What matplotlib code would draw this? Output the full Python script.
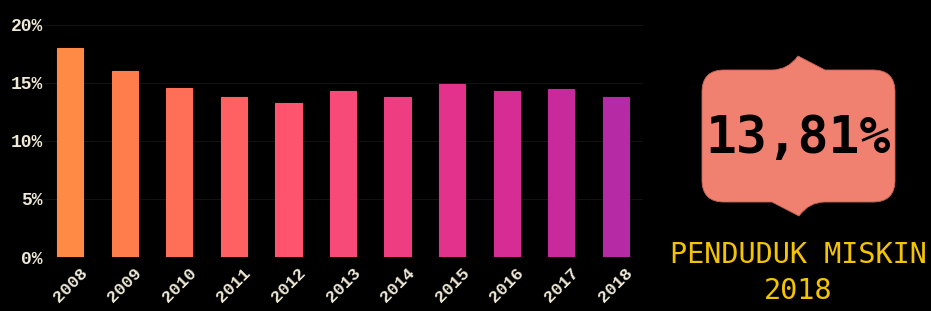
import matplotlib
matplotlib.use('Agg')
import matplotlib.pyplot as plt
from matplotlib.path import Path
from matplotlib.patches import PathPatch

# data
years = ['2008', '2009', '2010', '2011', '2012', '2013', '2014', '2015', '2016', '2017', '2018']
poverty = [18.03, 16.03, 14.55, 13.75, 13.25, 14.3, 13.78, 14.9, 14.3, 14.52, 13.81]
yticks = [0, 5, 10, 15, 20]
big_label = '13,81%'
caption = 'PENDUDUK MISKIN\n2018'

# style
BG = 'black'
CREAM = '#EFE9D6'
bar_colors = ['#FF8A45', '#FF7D4B', '#FF6E56', '#FF6062', '#FF536E', '#F84A78',
              '#EE3D80', '#E2328B', '#D52D94', '#C82A9C', '#B62AA6']

fig = plt.figure(figsize=(9.31, 3.11), dpi=100, facecolor=BG)
W, H = 931., 311.
ax = fig.add_axes([43/W, 1-257/H, 600/W, 232/H], facecolor=BG)

x = range(len(years))
ax.bar(x, poverty, width=0.48, color=bar_colors, zorder=3,
       edgecolor=bar_colors, linewidth=0.8)
ax.set_xlim(-0.5, len(years)-0.5)
ax.set_ylim(0, 20)
ax.set_yticks(yticks)
ax.set_yticklabels([str(t)+'%' for t in yticks])
ax.set_xticks(list(x))
ax.set_xticklabels(years, rotation=45)
for lbl in ax.get_yticklabels() + ax.get_xticklabels():
    lbl.set_family('Liberation Mono')
    lbl.set_weight('bold')
    lbl.set_color(CREAM)
    lbl.set_fontsize(13)
for lbl in ax.get_xticklabels():
    lbl.set_fontsize(12.5)
ax.tick_params(length=0)
ax.tick_params(axis='y', pad=0)
ax.tick_params(axis='x', pad=6)
ax.grid(axis='y', color='#121212', linewidth=0.8, zorder=0)
for s in ax.spines.values():
    s.set_visible(False)

# callout overlay in pixel coords
ov = fig.add_axes([0, 0, 1, 1], facecolor='none')
ov.set_xlim(0, W)
ov.set_ylim(H, 0)
ov.axis('off')

x0, x1, y0, y1, r = 702, 895, 70, 202, 22
verts = [(x0+r, y0), (772, y0), (788, y0), (798, 56), (825, y0), (x1-r, y0),
         (x1, y0), (x1, y0+r), (x1, y1-r), (x1, y1), (x1-r, y1),
         (825, y1), (809, y1), (799, 216), (772, y1), (x0+r, y1),
         (x0, y1), (x0, y1-r), (x0, y0+r), (x0, y0), (x0+r, y0)]
codes = [Path.MOVETO, Path.LINETO, Path.CURVE3, Path.CURVE3, Path.LINETO, Path.LINETO,
         Path.CURVE3, Path.CURVE3, Path.LINETO, Path.CURVE3, Path.CURVE3,
         Path.LINETO, Path.CURVE3, Path.CURVE3, Path.LINETO, Path.LINETO,
         Path.CURVE3, Path.CURVE3, Path.LINETO, Path.CURVE3, Path.CURVE3]
ov.add_patch(PathPatch(Path(verts, codes), facecolor='#F08070',
                       edgecolor='#C86454', linewidth=0.6))

ov.text(798, 139, big_label, ha='center', va='center', fontsize=37,
        family='DejaVu Sans Mono', weight='bold', color='black')
ov.text(798, 273, caption, ha='center', va='center', fontsize=20.5,
        family='DejaVu Sans Mono', color='#F5C400', linespacing=1.4)

plt.savefig('out.png', dpi=100, facecolor=BG)
